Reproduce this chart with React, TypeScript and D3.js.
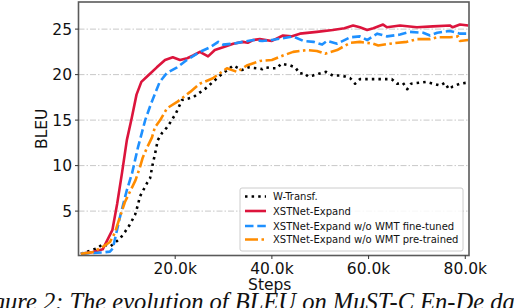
import React from "react";
import * as d3 from "d3";

const W = 514;
const H = 308;

const seriesNames = [
  "W-Transf.",
  "XSTNet-Expand",
  "XSTNet-Expand w/o WMT fine-tuned",
  "XSTNet-Expand w/o WMT pre-trained",
];

// steps in thousands, BLEU
const wTransf: [number, number][] = [
  [0.5, 0.3], [3.8, 0.9], [5.1, 1.4], [6.5, 1.1], [7.5, 1.5], [8.6, 2.0], [9.6, 2.7], [10.6, 3.5],
  [11.7, 4.6], [12.3, 5.7], [12.7, 6.6], [14.2, 8.1], [14.8, 8.6], [15.4, 10.3], [15.8, 11.2],
  [16.4, 12.8], [17.3, 13.6], [18.3, 14.2], [19.3, 15.0], [20.2, 15.8], [21.4, 17.2], [23.7, 17.5],
  [26.6, 18.6], [27.8, 19.2], [29.3, 19.9], [32.0, 21.0], [33.8, 20.5], [35.1, 20.8], [36.9, 20.7],
  [38.0, 20.6], [38.6, 20.8], [40.1, 20.7], [41.1, 20.7], [41.9, 21.2], [43.8, 21.0], [44.8, 20.8],
  [45.8, 20.1], [46.6, 20.2], [47.5, 19.8], [48.5, 19.9], [49.7, 20.1], [51.2, 20.3], [52.6, 19.9],
  [54.1, 19.9], [55.1, 19.8], [56.2, 19.6], [57.2, 19.0], [58.2, 19.5], [59.3, 19.5], [62.0, 19.5],
  [64.8, 19.5], [65.9, 19.0], [67.1, 19.1], [68.0, 18.4], [68.8, 19.0], [70.4, 19.1], [71.9, 19.2],
  [73.3, 19.0], [74.8, 18.8], [75.8, 19.1], [76.6, 18.4], [77.4, 18.7], [78.9, 19.0], [80.2, 19.1],
];

const xstnet: [number, number][] = [
  [0.5, 0.3], [3, 0.5], [5, 0.8], [7, 2.9], [8, 5.8], [9, 9.2], [10, 12.8], [11, 15.2], [12, 17.8],
  [13, 19.2], [14.4, 19.9], [16.2, 20.8], [17.9, 21.6], [19.5, 21.9], [21, 21.6], [22.5, 21.8],
  [23.7, 22.1], [25.1, 22.5], [26.8, 22.0], [28.2, 22.7], [29.9, 23.0], [32, 23.4], [34, 23.6],
  [35, 23.5], [36.1, 23.8], [37.5, 23.9], [40, 23.7], [42.3, 24.3], [44, 24.2], [45.8, 24.5],
  [49.3, 24.7], [52.6, 24.9], [55, 25.1], [56.8, 25.4], [58.2, 25.2], [59.7, 24.9], [61, 25.1],
  [63, 25.5], [63.8, 25.2], [66.5, 25.4], [70, 25.2], [73.3, 25.3], [76.8, 25.4], [77.4, 25.2],
  [78.9, 25.5], [80.6, 25.4],
];

const noFineTune: [number, number][] = [
  [0.5, 0.35], [3, 0.4], [5, 0.45], [6.5, 0.55], [7.1, 0.9], [8.6, 4.4], [10, 7.3], [11.1, 9.2],
  [11.7, 10.6], [12.3, 12.0], [13.1, 13.6], [13.8, 15.0], [15.0, 16.8], [16.8, 19.2], [18.3, 20.2],
  [20.4, 20.8], [22.4, 21.6], [25.1, 22.5], [27.2, 23.0], [28.9, 23.6], [29.9, 23.3], [32, 23.4],
  [34, 23.6], [36.1, 23.8], [38, 23.7], [40, 23.8], [42.3, 24.0], [44.4, 24.2], [46.5, 23.7],
  [48.6, 23.6], [50.4, 23.3], [51.4, 23.7], [53.5, 23.4], [56.2, 24.1], [58.2, 24.2], [59.7, 23.8],
  [61.8, 24.5], [63.8, 24.2], [66.5, 24.4], [68.5, 24.7], [71.3, 24.6], [72.7, 24.3], [74.2, 24.6],
  [76.8, 24.8], [78.9, 24.5], [80.6, 24.5],
];

const noPreTrain: [number, number][] = [
  [0.5, 0.3], [3, 0.5], [5.1, 1.1], [6.5, 1.6], [7.5, 2.6], [8.6, 4.4], [9.6, 6.0], [11.8, 8.4],
  [12.7, 9.8], [13.3, 10.9], [14.2, 12.0], [15.2, 13.1], [15.8, 14.2], [16.9, 15.0], [18.3, 16.3],
  [20.4, 17.0], [23.1, 18.1], [25.1, 19.0], [27.8, 19.6], [30.7, 20.7], [32.8, 20.3], [34.8, 21.0],
  [37.5, 21.5], [40, 21.6], [42.3, 22.1], [44.4, 22.5], [47.3, 22.7], [49.3, 22.6], [51, 22.3],
  [53.5, 22.7], [56.2, 23.5], [58.2, 23.6], [60.9, 23.4], [62, 23.2], [64.4, 23.4], [67.9, 23.6],
  [70, 23.9], [72.7, 23.9], [74.2, 24.1], [76.8, 24.1], [78.5, 24.2], [78.9, 23.7], [80.6, 23.8],
];

const xTicks = [20, 40, 60, 80];
const xTickLabels = ["20.0k", "40.0k", "60.0k", "80.0k"];
const yTicks = [5, 10, 15, 20, 25];

const caption = "Figure 2: The evolution of BLEU on MuST-C En-De dataset.";

export default function App() {
  const left = 78.5, right = 469, top = 2, bottom = 255.5;
  const x = d3.scaleLinear().domain([0, 80.77]).range([left, right]);
  const y = d3.scaleLinear().domain([0.12, 27.98]).range([bottom, top]);
  const line = d3.line<[number, number]>().x((d) => x(d[0])).y((d) => y(d[1]));

  const styles = [
    { data: wTransf, color: "#000000", dash: "2.5,4.1", width: 2.6 },
    { data: xstnet, color: "#dc143c", dash: "", width: 2.6 },
    { data: noFineTune, color: "#1e90ff", dash: "8.5,3.8", width: 2.6 },
    { data: noPreTrain, color: "#ff8c00", dash: "13,3.5,2.5,3.5", width: 2.6 },
  ];

  const font = "DejaVu Sans";
  const fs = 15.5;
  const legX = 240, legY = 188, legW = 223, legH = 63;
  const rowY = [196.5, 211, 226, 239.5];

  return (
    <svg width={W} height={H} style={{ position: "absolute", left: 0, top: 0, background: "#fff" }}>
      <rect x={0} y={0} width={W} height={H} fill="#fff" />
      {yTicks.map((t) => (
        <line key={"g" + t} x1={left} x2={right} y1={y(t)} y2={y(t)} stroke="#c8c8c8" strokeWidth={1} strokeDasharray="6,2,1.5,2" />
      ))}
      {styles.map((s, i) => (
        <path key={i} d={line(s.data) || ""} fill="none" stroke={s.color} strokeWidth={s.width} strokeDasharray={s.dash || undefined} strokeLinejoin="round" />
      ))}
      <rect x={left} y={top} width={right - left} height={bottom - top} fill="none" stroke="#5a5a5a" strokeWidth={1.6} />
      {yTicks.map((t) => (
        <g key={"y" + t}>
          <line x1={left - 3.5} x2={left} y1={y(t)} y2={y(t)} stroke="#333" strokeWidth={1} />
          <text x={left - 6.5} y={y(t)} dy="0.36em" textAnchor="end" fontFamily={font} fontSize={fs} fill="#111">{t}</text>
        </g>
      ))}
      {xTicks.map((t, i) => (
        <g key={"x" + t}>
          <line x1={x(t)} x2={x(t)} y1={bottom} y2={bottom + 3.5} stroke="#333" strokeWidth={1} />
          <text x={x(t)} y={273.5} textAnchor="middle" fontFamily={font} fontSize={fs} fill="#111">{xTickLabels[i]}</text>
        </g>
      ))}
      <text x={(left + right) / 2 - 4} y={289.5} textAnchor="middle" fontFamily={font} fontSize={fs} fill="#111">Steps</text>
      <text transform={`translate(46.5,${(top + bottom) / 2}) rotate(-90)`} textAnchor="middle" fontFamily={font} fontSize={fs} fill="#111">BLEU</text>

      <rect x={legX} y={legY} width={legW} height={legH} rx={2} fill="#fff" fillOpacity={0.85} stroke="#cccccc" strokeWidth={1} />
      {styles.map((s, i) => (
        <g key={"l" + i}>
          <line x1={245} x2={266} y1={rowY[i]} y2={rowY[i]} stroke={s.color} strokeWidth={s.width} strokeDasharray={s.dash || undefined} />
          <text x={273} y={rowY[i]} dy="0.36em" fontFamily={font} fontSize={10} fill="#111">{seriesNames[i]}</text>
        </g>
      ))}
      <text x={-29} y={310} fontFamily="Liberation Serif" fontStyle="italic" fontSize={24.5} fill="#111">{caption}</text>
    </svg>
  );
}
